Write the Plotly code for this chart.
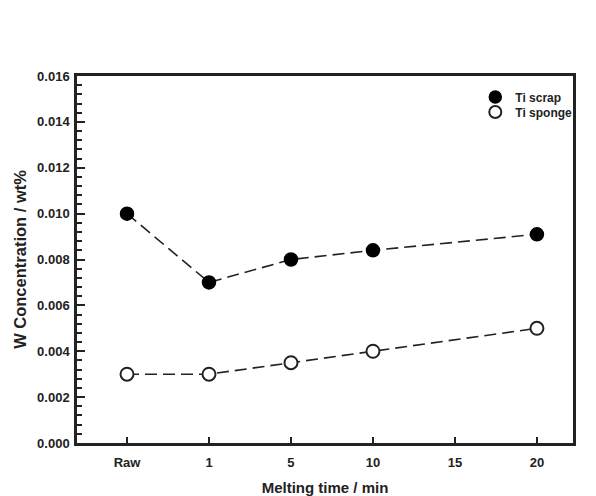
import plotly.graph_objects as go

categories = ["Raw", "1", "5", "10", "15", "20"]
x_scrap = ["Raw", "1", "5", "10", "20"]
ti_scrap = [0.0100, 0.0070, 0.0080, 0.0084, 0.0091]
ti_sponge = [0.0030, 0.0030, 0.0035, 0.0040, 0.0050]
y_ticks = [0.000, 0.002, 0.004, 0.006, 0.008, 0.010, 0.012, 0.014, 0.016]

pos = {c: i for i, c in enumerate(categories)}
xs = [pos[c] for c in x_scrap]

FONT = "Liberation Sans, Arial, sans-serif"

fig = go.Figure()
fig.add_trace(go.Scatter(
    x=xs, y=ti_scrap, mode="lines+markers", showlegend=False,
    line=dict(color="#222", width=1.6, dash="12px,6px"),
    marker=dict(size=13, color="black", line=dict(color="black", width=1.5)),
))
fig.add_trace(go.Scatter(
    x=xs, y=ti_sponge, mode="lines+markers", showlegend=False,
    line=dict(color="#222", width=1.6, dash="12px,6px"),
    marker=dict(size=13, color="white", line=dict(color="#222", width=2)),
))
fig.add_trace(go.Scatter(
    x=[None], y=[None], mode="markers", name="Ti scrap", legend="legend",
    marker=dict(size=12, color="black", line=dict(color="black", width=1.5)),
))
fig.add_trace(go.Scatter(
    x=[None], y=[None], mode="markers", name="Ti sponge", legend="legend2",
    marker=dict(size=12, color="white", line=dict(color="#222", width=2)),
))

leg_common = dict(xanchor="left", yanchor="middle", bgcolor="rgba(0,0,0,0)",
                  font=dict(size=12, weight="bold"), itemwidth=30)

fig.update_layout(
    width=596, height=496,
    margin=dict(l=77, r=23, t=76, b=53),
    plot_bgcolor="white", paper_bgcolor="white",
    font=dict(family=FONT, color="#222", size=13, weight="bold"),
    legend=dict(x=0.803, y=0.943, **leg_common),
    legend2=dict(x=0.803, y=0.902, **leg_common),
    xaxis=dict(
        range=[-0.61, 5.44], tickmode="array",
        tickvals=list(range(len(categories))), ticktext=categories,
        ticks="inside", ticklen=6, tickwidth=2, tickcolor="#222",
        showline=True, linecolor="#222", linewidth=2.5, mirror=True,
        showgrid=False, zeroline=False, automargin=False,
        ticklabelstandoff=6,
        tickfont=dict(size=13, weight="bold"),
        title=dict(text="Melting time / min", font=dict(size=15, weight="bold"), standoff=14),
    ),
    yaxis=dict(
        range=[0, 0.016], tickmode="array", tickvals=y_ticks,
        ticktext=[f"{v:.3f}" for v in y_ticks],
        ticks="inside", ticklen=8, tickwidth=2, tickcolor="#222",
        minor=dict(ticks="inside", ticklen=5, tickwidth=1.5, tickcolor="#222", dtick=0.0004, showgrid=False),
        showline=True, linecolor="#222", linewidth=2.5, mirror=True,
        showgrid=False, zeroline=False, automargin=False,
        ticklabelstandoff=2,
        tickfont=dict(size=13, weight="bold"),
        title=dict(text="W Concentration / wt%", font=dict(size=16.5, weight="bold"), standoff=7),
    ),
)

fig.write_html("out.html")
